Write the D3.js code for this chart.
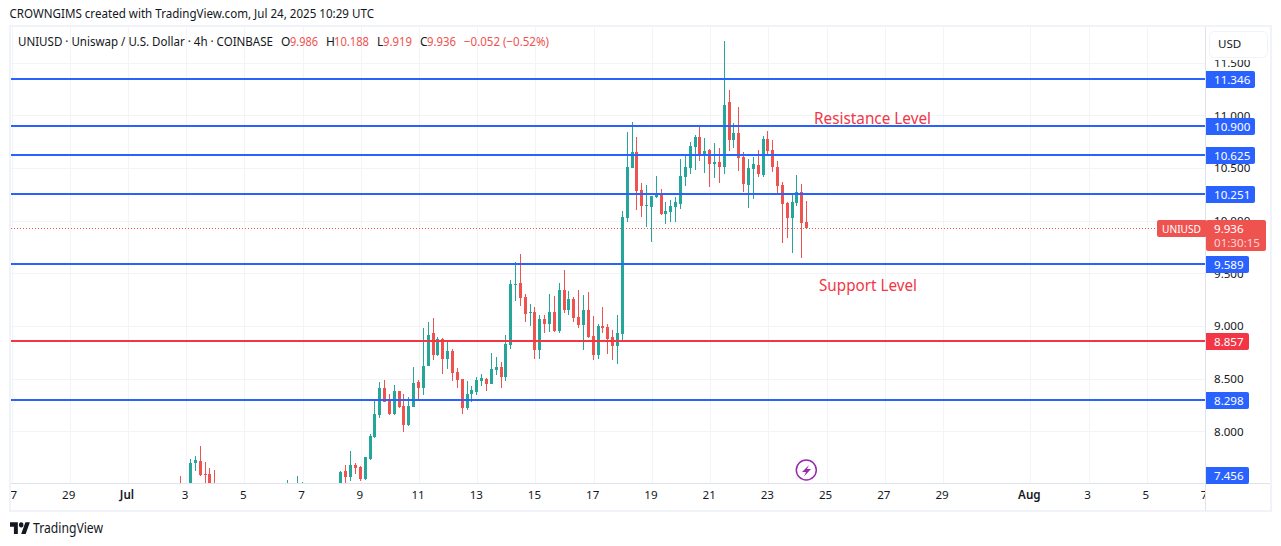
<!DOCTYPE html>
<html>
<head>
<meta charset="utf-8">
<script src="https://cdn.jsdelivr.net/npm/d3@7"></script>
<style>
  html, body { margin: 0; padding: 0; background: #fff; }
  svg { display: block; }
  text { font-family: "Noto Sans", sans-serif; }
</style>
</head>
<body>
<svg id="chart" width="1281" height="546"></svg>
<script>
// 4h candles, first one is Jul 2 20:00 UTC, last one Jul 24 08:00 UTC
// everything below about 7.51 is off the chart so those are just rough guesses
let opens = [7.45, 7.40, 7.44, 7.70, 7.72, 7.597, 7.597, 7.47,
  7.41, 7.38, 7.33, 7.29, 7.25, 7.22, 7.27, 7.24, 7.20, 7.23, 7.26, 7.22, 7.28, 7.31,
  7.35, 7.45, 7.38, 7.42,
  7.46, 7.41, 7.38, 7.34, 7.31, 7.36, 7.39,
  7.42, 7.625, 7.568, 7.682, 7.663, 7.549, 7.739, 7.948, 8.157, 8.413, 8.309, 8.166, 8.385, 8.242, 8.062, 8.233, 8.47, 8.413, 8.622, 8.935, 8.726, 8.878, 8.688, 8.764, 8.565, 8.499, 8.223, 8.356, 8.375, 8.48, 8.499, 8.451, 8.584, 8.612, 8.518, 8.821, 9.39, 9.409, 9.277, 9.125, 9.134, 8.774, 9.068, 9.021, 9.134, 8.954, 9.343, 9.153, 9.258, 9.087, 9.011, 9.153, 8.907, 8.726, 9.002, 8.992, 8.897, 8.812, 8.926, 10.027, 10.501, 10.653, 10.293, 10.141, 10.131, 10.226, 10.245, 10.065, 10.084, 10.131, 10.16, 10.416, 10.501, 10.701, 10.796, 10.615, 10.672, 10.539, 10.558, 10.511, 11.128, 10.767, 10.834, 10.606, 10.34, 10.492, 10.53, 10.435, 10.777, 10.672, 10.511, 10.34, 10.169, 10.027, 10.169, 10.274, 9.986];
let highs = [7.578, 7.48, 7.739, 7.768, 7.862, 7.711, 7.654, 7.635,
  7.44, 7.40, 7.35, 7.31, 7.29, 7.33, 7.30, 7.28, 7.30, 7.32, 7.30, 7.34, 7.38, 7.40,
  7.54, 7.48, 7.578, 7.521,
  7.48, 7.44, 7.41, 7.38, 7.42, 7.45, 7.48,
  7.625, 7.682, 7.815, 7.701, 7.673, 7.758, 7.977, 8.299, 8.47, 8.489, 8.356, 8.442, 8.385, 8.356, 8.328, 8.612, 8.489, 8.983, 9.04, 9.078, 8.897, 8.888, 8.869, 8.783, 8.603, 8.499, 8.48, 8.432, 8.518, 8.546, 8.508, 8.745, 8.707, 8.66, 8.916, 9.438, 9.609, 9.685, 9.305, 9.21, 9.182, 9.106, 9.106, 9.305, 9.286, 9.409, 9.533, 9.334, 9.277, 9.343, 9.296, 9.324, 9.097, 9.021, 9.182, 9.021, 8.964, 9.106, 10.093, 10.843, 10.938, 10.796, 10.359, 10.34, 10.236, 10.425, 10.302, 10.179, 10.198, 10.226, 10.587, 10.634, 10.748, 10.815, 10.891, 10.786, 10.682, 10.739, 10.691, 11.707, 11.242, 10.929, 11.08, 10.653, 10.587, 10.606, 10.672, 10.805, 10.853, 10.767, 10.568, 10.368, 10.179, 10.264, 10.435, 10.35, 10.188];
let lows = [7.35, 7.33, 7.40, 7.625, 7.578, 7.48, 7.42, 7.36,
  7.36, 7.30, 7.26, 7.22, 7.18, 7.20, 7.21, 7.17, 7.16, 7.18, 7.20, 7.18, 7.24, 7.27,
  7.30, 7.34, 7.32, 7.36,
  7.38, 7.35, 7.31, 7.28, 7.27, 7.32, 7.35,
  7.38, 7.49, 7.53, 7.597, 7.53, 7.54, 7.73, 7.939, 8.128, 8.28, 8.157, 8.157, 8.223, 7.995, 8.052, 8.233, 8.299, 8.347, 8.622, 8.679, 8.717, 8.546, 8.594, 8.48, 8.413, 8.166, 8.204, 8.28, 8.347, 8.432, 8.385, 8.451, 8.537, 8.413, 8.48, 8.783, 9.239, 9.191, 9.04, 9.002, 8.688, 8.688, 8.935, 8.945, 8.945, 8.935, 9.125, 9.106, 9.04, 8.983, 8.774, 8.888, 8.679, 8.688, 8.935, 8.736, 8.679, 8.641, 8.859, 9.989, 10.501, 10.103, 10.036, 9.941, 9.799, 10.217, 10.055, 9.97, 9.989, 9.989, 10.112, 10.331, 10.444, 10.482, 10.568, 10.454, 10.321, 10.406, 10.359, 10.444, 10.663, 10.691, 10.473, 10.274, 10.122, 10.207, 10.416, 10.416, 10.625, 10.463, 10.264, 9.789, 9.837, 9.694, 10.141, 9.647, 9.919];
let closes = [7.40, 7.45, 7.701, 7.73, 7.587, 7.587, 7.47, 7.40,
  7.38, 7.33, 7.29, 7.25, 7.22, 7.27, 7.24, 7.20, 7.23, 7.26, 7.22, 7.28, 7.31, 7.35,
  7.45, 7.42, 7.47, 7.47,
  7.41, 7.38, 7.34, 7.31, 7.36, 7.39, 7.42,
  7.616, 7.568, 7.682, 7.654, 7.549, 7.758, 7.958, 8.166, 8.413, 8.28, 8.166, 8.385, 8.233, 8.062, 8.242, 8.461, 8.413, 8.622, 8.916, 8.726, 8.878, 8.688, 8.764, 8.555, 8.489, 8.223, 8.356, 8.394, 8.489, 8.508, 8.451, 8.594, 8.612, 8.518, 8.831, 9.40, 9.40, 9.267, 9.115, 9.134, 8.774, 9.068, 9.021, 9.134, 8.954, 9.343, 9.153, 9.258, 9.078, 9.011, 9.153, 8.897, 8.726, 9.002, 8.983, 8.878, 8.812, 8.935, 10.036, 10.511, 10.653, 10.283, 10.141, 10.15, 10.236, 10.245, 10.065, 10.093, 10.141, 10.179, 10.425, 10.511, 10.71, 10.796, 10.625, 10.663, 10.539, 10.558, 10.511, 11.099, 10.767, 10.834, 10.596, 10.349, 10.501, 10.539, 10.444, 10.777, 10.663, 10.511, 10.331, 10.16, 10.027, 10.179, 10.274, 9.98, 9.936];

let priceTicks = [8, 8.5, 9, 9.5, 10, 10.5, 11, 11.5];
let dateTicks = ["2025-06-27", "2025-06-29", "2025-07-01", "2025-07-03", "2025-07-05", "2025-07-07", "2025-07-09", "2025-07-11", "2025-07-13", "2025-07-15", "2025-07-17", "2025-07-19", "2025-07-21", "2025-07-23", "2025-07-25", "2025-07-27", "2025-07-29", "2025-08-01", "2025-08-03", "2025-08-05", "2025-08-07"];

let blueLevels = [11.346, 10.9, 10.625, 10.251, 9.589, 8.298];
let redLevel = 8.857;
let lowLevel = 7.456;
let lastPrice = 9.936;

let plotLeft = 11, plotRight = 1205, plotTop = 27, plotBottom = 483;
let green = "#26a69a", red = "#ef5350", blue = "#2962ff", lineRed = "#f23645";
let ink = "#131722", gridColor = "#f2f4f8", edgeColor = "#e0e3eb";
let axisFont = 11.6;

let firstBar = Date.UTC(2025, 6, 2, 20);
let fourHours = 4 * 3600 * 1000;

let svg = d3.select("#chart");

let xScale = d3.scaleUtc()
  .domain([new Date(Date.UTC(2025, 5, 27)), new Date(Date.UTC(2025, 7, 7))])
  .range([11.5, plotRight]);

let yScale = d3.scaleLinear()
  .domain([7.511, 11.84])
  .range([plotBottom, plotTop]);

let candles = opens.map(function (o, i) {
  return { time: new Date(firstBar + i * fourHours), o: o, h: highs[i], l: lows[i], c: closes[i] };
});
let dates = dateTicks.map(function (d) { return new Date(d + "T00:00:00Z"); });

// clip areas
let defs = svg.append("defs");
defs.append("clipPath").attr("id", "plotClip").append("rect")
  .attr("x", plotLeft).attr("y", plotTop).attr("width", plotRight - plotLeft).attr("height", plotBottom - plotTop);
defs.append("clipPath").attr("id", "timeClip").append("rect")
  .attr("x", plotLeft).attr("y", plotBottom).attr("width", plotRight - plotLeft).attr("height", 28);

// grid
let grid = svg.append("g").attr("shape-rendering", "crispEdges");
grid.selectAll(".gx").data(dates).enter().append("line")
  .attr("x1", d => Math.round(xScale(d))).attr("x2", d => Math.round(xScale(d)))
  .attr("y1", plotTop).attr("y2", plotBottom).attr("stroke", gridColor);
grid.selectAll(".gy").data(priceTicks).enter().append("line")
  .attr("x1", plotLeft).attr("x2", plotRight)
  .attr("y1", d => Math.round(yScale(d))).attr("y2", d => Math.round(yScale(d)))
  .attr("stroke", gridColor);

// frame around the chart
svg.append("rect").attr("x", 10).attr("y", 26).attr("width", 1261).attr("height", 485)
  .attr("fill", "none").attr("stroke", "#f0f3fa").attr("stroke-width", 2);

// last price dotted line
svg.append("line")
  .attr("x1", plotLeft).attr("x2", 1157)
  .attr("y1", Math.round(yScale(lastPrice)) + 0.5).attr("y2", Math.round(yScale(lastPrice)) + 0.5)
  .attr("stroke", red).attr("stroke-dasharray", "1 2").attr("shape-rendering", "crispEdges");

// candles
let bars = svg.append("g").attr("clip-path", "url(#plotClip)").attr("shape-rendering", "crispEdges");
bars.selectAll(".wick").data(candles).enter().append("line")
  .attr("x1", d => Math.round(xScale(d.time)) - 0.5)
  .attr("x2", d => Math.round(xScale(d.time)) - 0.5)
  .attr("y1", d => yScale(d.h)).attr("y2", d => yScale(d.l))
  .attr("stroke", d => d.c >= d.o ? green : red);
bars.selectAll(".body").data(candles).enter().append("rect")
  .attr("x", d => Math.round(xScale(d.time)) - 2)
  .attr("width", 3)
  .attr("y", d => yScale(Math.max(d.o, d.c)))
  .attr("height", d => Math.max(1, Math.abs(yScale(d.o) - yScale(d.c))))
  .attr("fill", d => d.c >= d.o ? green : red);

// horizontal levels
let levels = svg.append("g").attr("clip-path", "url(#plotClip)").attr("shape-rendering", "crispEdges");
levels.selectAll("line").data(blueLevels.concat([redLevel])).enter().append("line")
  .attr("x1", plotLeft).attr("x2", plotRight)
  .attr("y1", d => Math.round(yScale(d))).attr("y2", d => Math.round(yScale(d)))
  .attr("stroke", d => d === redLevel ? lineRed : blue)
  .attr("stroke-width", 2);

// annotations
svg.append("text").attr("x", 814).attr("y", 124).attr("font-size", 15.5).attr("fill", lineRed)
  .attr("textLength", 117).attr("lengthAdjust", "spacingAndGlyphs").text("Resistance Level");
svg.append("text").attr("x", 819).attr("y", 291).attr("font-size", 15.5).attr("fill", lineRed)
  .attr("textLength", 98).attr("lengthAdjust", "spacingAndGlyphs").text("Support Level");

// lightning marker
svg.append("circle").attr("cx", 806.3).attr("cy", 470).attr("r", 10)
  .attr("fill", "#fff").attr("stroke", "#9c27b0").attr("stroke-width", 1.5);
svg.append("path").attr("d", "M809 465 L802 472 L806 472 L804 476.5 L811 469 L807 469 Z")
  .attr("fill", "#9c27b0");

// axes
svg.append("line").attr("x1", plotRight + 0.5).attr("x2", plotRight + 0.5).attr("y1", 27).attr("y2", 511)
  .attr("stroke", edgeColor);
svg.append("line").attr("x1", plotLeft).attr("x2", 1270).attr("y1", plotBottom + 0.5).attr("y2", plotBottom + 0.5)
  .attr("stroke", edgeColor);

let xAxis = d3.axisBottom(xScale)
  .tickValues(dates)
  .tickSize(0)
  .tickPadding(8)
  .tickFormat(function (d) {
    if (d.getUTCDate() == 1) return d3.utcFormat("%b")(d);
    return d.getUTCDate();
  });
let xG = svg.append("g").attr("clip-path", "url(#timeClip)").append("g")
  .attr("transform", "translate(-1.5," + plotBottom + ")").call(xAxis);
xG.select(".domain").remove();
xG.selectAll("text").attr("font-size", axisFont).attr("fill", ink).style("font-family", '"Noto Sans", sans-serif')
  .attr("font-weight", d => d.getUTCDate() == 1 ? 600 : 400);

let yAxis = d3.axisRight(yScale)
  .tickValues(priceTicks)
  .tickSize(0)
  .tickPadding(9)
  .tickFormat(d3.format(".3f"));
let yG = svg.append("g").attr("transform", "translate(" + plotRight + ",0)").call(yAxis);
yG.select(".domain").remove();
yG.selectAll("text").attr("font-size", axisFont).attr("fill", ink).style("font-family", '"Noto Sans", sans-serif');

// price labels on the axis
function priceTag(value, y, color, w) {
  let yc = Math.round(y) + 0.5;
  svg.append("path")
    .attr("d", "M1206 " + (yc - 8.5) + "H" + (1206 + w - 2) + "q2 0 2 2V" + (yc + 6.5) + "q0 2 -2 2H1206Z")
    .attr("fill", color);
  svg.append("text").attr("x", 1214).attr("y", yc + 4).attr("font-size", axisFont).attr("fill", "#fff")
    .text(d3.format(".3f")(value));
}
blueLevels.forEach(function (v) {
  priceTag(v, yScale(v), blue, v >= 10 ? 49 : 43);
});
priceTag(redLevel, yScale(redLevel), lineRed, 43);
priceTag(lowLevel, 474.5, blue, 43);

// last price tag with countdown
svg.append("rect").attr("x", 1157).attr("y", 220).attr("width", 50).attr("height", 17).attr("rx", 2).attr("fill", red);
svg.append("rect").attr("x", 1206).attr("y", 220).attr("width", 60).attr("height", 31).attr("rx", 2).attr("fill", red);
svg.append("text").attr("x", 1162).attr("y", 233).attr("font-size", axisFont).attr("fill", "#fff")
  .attr("textLength", 39).attr("lengthAdjust", "spacingAndGlyphs").text("UNIUSD");
svg.append("text").attr("x", 1214).attr("y", 233).attr("font-size", axisFont).attr("fill", "#fff").text(d3.format(".3f")(lastPrice));
svg.append("text").attr("x", 1214).attr("y", 247).attr("font-size", axisFont).attr("fill", "#fff").attr("fill-opacity", 0.75).text("01:30:15");

// currency button, its white backing cuts off the top of the 11.500 label
svg.append("rect").attr("x", 1206).attr("y", 28).attr("width", 64).attr("height", 32).attr("fill", "#fff");
svg.append("rect").attr("x", 1209.5).attr("y", 31.5).attr("width", 58).attr("height", 26).attr("rx", 5)
  .attr("fill", "#fff").attr("stroke", "#f0f3fa");
svg.append("text").attr("x", 1218).attr("y", 47.5).attr("font-size", axisFont).attr("fill", ink).text("USD");

// header
svg.append("text").attr("x", 9.5).attr("y", 18).attr("font-size", 12).attr("fill", ink)
  .attr("textLength", 364.5).attr("lengthAdjust", "spacingAndGlyphs")
  .text("CROWNGIMS created with TradingView.com, Jul 24, 2025 10:29 UTC");

// legend line
let legendTexts = [
  { x: 18, t: "UNIUSD · Uniswap / U.S. Dollar · 4h · COINBASE", c: ink, w: 255 },
  { x: 281, t: "O", c: ink }, { x: 290, t: "9.986", c: red, w: 28 },
  { x: 326, t: "H", c: ink }, { x: 334, t: "10.188", c: red, w: 35 },
  { x: 377, t: "L", c: ink }, { x: 383, t: "9.919", c: red, w: 29 },
  { x: 420, t: "C", c: ink }, { x: 427, t: "9.936", c: red, w: 29 },
  { x: 464, t: "−0.052 (−0.52%)", c: red, w: 85 }
];
svg.selectAll(".legend").data(legendTexts).enter().append("text")
  .attr("x", d => d.x).attr("y", 46).attr("font-size", 12).attr("fill", d => d.c)
  .attr("textLength", d => d.w ? d.w : null).attr("lengthAdjust", "spacingAndGlyphs")
  .text(d => d.t);

// TradingView logo
let logo = svg.append("g").attr("transform", "translate(10,519.5) scale(0.56,0.66)").attr("fill", ink);
logo.append("path").attr("d", "M14 22H7V11H0V4h14v18zM28 22h-8l7.5-18h8L28 22z");
logo.append("circle").attr("cx", 20).attr("cy", 8).attr("r", 4);
svg.append("text").attr("x", 33).attr("y", 533).attr("font-size", 14).attr("fill", ink)
  .attr("textLength", 70).attr("lengthAdjust", "spacingAndGlyphs").text("TradingView");
</script>
</body>
</html>
